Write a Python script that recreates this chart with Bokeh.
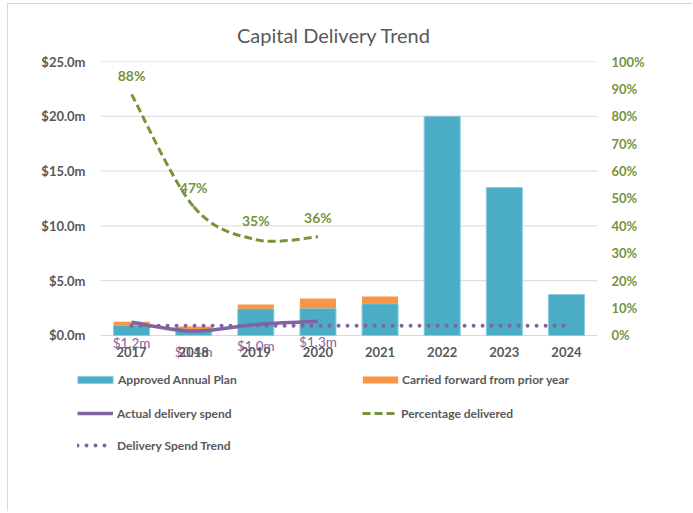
import numpy as np
from bokeh.plotting import figure
from bokeh.models import (Range1d, LinearAxis, FixedTicker, PrintfTickFormatter,
                          NumeralTickFormatter, Legend, LegendItem, ColumnDataSource)
from bokeh.core.properties import value
from bokeh.embed import file_html
from bokeh.resources import INLINE

# ---------------- data ----------------
years = ["2017", "2018", "2019", "2020", "2021", "2022", "2023", "2024"]
approved_plan = [0.91, 0.60, 2.44, 2.49, 2.89, 20.0, 13.5, 3.74]        # $m
carried_forward = [0.34, 0.22, 0.39, 0.89, 0.67, 0.0, 0.0, 0.0]         # $m
actual_years = ["2017", "2018", "2019", "2020"]
actual_spend = [1.2, 0.4, 1.0, 1.3]                                     # $m
pct_delivered = [0.88, 0.47, 0.35, 0.36]
trend_spend = [0.88, 0.88, 0.88, 0.88, 0.88, 0.88, 0.88, 0.88]          # $m
left_ticks = [0, 5, 10, 15, 20, 25]
right_ticks = [0.0, 0.1, 0.2, 0.3, 0.4, 0.5, 0.6, 0.7, 0.8, 0.9, 1.0]
series_names = ["Approved Annual Plan", "Carried forward from prior year",
                "Actual delivery spend", "Percentage delivered",
                "Delivery Spend Trend"]

TEAL = "#4BACC6"
ORANGE = "#F79646"
PURPLE = "#8064A2"
GREEN = "#77933C"
GREY = "#595959"
FONT = "Lato"

# plot-area extent (the frame also holds the legend below the zero line)
Y_MIN = -12.32
Y_MAX = 25.0
X_MIN = -0.483

xpos = {y: i + 0.5 for i, y in enumerate(years)}
x_all = [xpos[y] for y in years]
x_act = [xpos[y] for y in actual_years]

p = figure(width=685, height=508, output_backend="svg", toolbar_location=None,
           x_range=Range1d(X_MIN, len(years)), y_range=Range1d(Y_MIN, Y_MAX),
           min_border_left=62, min_border_right=96, min_border_top=57,
           min_border_bottom=42, y_axis_location=None)
p.styles = {"margin-left": "7px", "margin-top": "3px",
            "border-left": "1px solid #D9D9D9", "border-top": "1px solid #D9D9D9"}
p.outline_line_color = None
p.background_fill_color = "white"
p.border_fill_color = "white"

p.title.text = "Capital Delivery Trend"
p.title.align = "center"
p.title.text_font = FONT
p.title.text_font_size = "20px"
p.title.text_font_style = "normal"
p.title.text_color = GREY
p.title.standoff = 30

p.extra_y_ranges = {"pct": Range1d(Y_MIN / Y_MAX, 1)}

# axes
xa = p.xaxis[0]
xa.ticker = FixedTicker(ticks=x_all)
xa.major_label_overrides = {xpos[y]: y for y in years}
xa.major_tick_out = 0
xa.major_tick_in = 0
xa.minor_tick_out = 0
xa.minor_tick_in = 0
xa.axis_line_color = None
xa.major_label_standoff = -124
xa.major_label_text_font = FONT
xa.major_label_text_font_style = "bold"
xa.major_label_text_font_size = "13px"
xa.major_label_text_color = GREY

ly = LinearAxis(ticker=FixedTicker(ticks=left_ticks),
                formatter=PrintfTickFormatter(format="$%.1fm"))
ry = LinearAxis(y_range_name="pct", ticker=FixedTicker(ticks=right_ticks),
                formatter=NumeralTickFormatter(format="0%"))
for ax, col, so in ((ly, GREY, -15), (ry, GREEN, 14)):
    ax.major_tick_out = 0
    ax.major_tick_in = 0
    ax.minor_tick_out = 0
    ax.minor_tick_in = 0
    ax.axis_line_color = None
    ax.major_label_standoff = so
    ax.major_label_text_font = FONT
    ax.major_label_text_font_style = "bold"
    ax.major_label_text_font_size = "13px"
    ax.major_label_text_color = col
p.add_layout(ly, "left")
p.add_layout(ry, "right")

# horizontal gridlines over the category span only
p.xgrid.visible = False
p.ygrid.visible = False
p.segment(x0=0, x1=len(years), y0=left_ticks, y1=left_ticks,
          line_color="#D9D9D9", line_width=1)

# bars
plan = np.array(approved_plan)
cf = np.array(carried_forward)
bar_src = ColumnDataSource(dict(x=x_all, plan=plan, top=plan + cf))
r_plan = p.vbar(x="x", width=0.58, bottom=0, top="plan", source=bar_src,
                fill_color=TEAL, line_color="#8CCBDC", line_width=1)
r_cf = p.vbar(x="x", width=0.58, bottom="plan", top="top", source=bar_src,
              fill_color=ORANGE, line_color=None)

# trend dotted line
r_trend = p.line(x_all, trend_spend, line_color=PURPLE, line_width=4,
                 line_dash="0 9", line_cap="round")


def bezier_parts(xs, ys):
    n = len(xs)
    out = dict(x0=[], y0=[], x1=[], y1=[], cx0=[], cy0=[], cx1=[], cy1=[])
    for i in range(n - 1):
        pm = i - 1 if i > 0 else i
        pp = i + 2 if i + 2 < n else i + 1
        out["x0"].append(xs[i]); out["y0"].append(ys[i])
        out["x1"].append(xs[i + 1]); out["y1"].append(ys[i + 1])
        out["cx0"].append(xs[i] + (xs[i + 1] - xs[pm]) / 6)
        out["cy0"].append(ys[i] + (ys[i + 1] - ys[pm]) / 6)
        out["cx1"].append(xs[i + 1] - (xs[pp] - xs[i]) / 6)
        out["cy1"].append(ys[i + 1] - (ys[pp] - ys[i]) / 6)
    return out


# actual delivery spend (smoothed)
r_act = p.bezier(source=ColumnDataSource(bezier_parts(x_act, actual_spend)),
                 x0="x0", y0="y0", x1="x1", y1="y1", cx0="cx0", cy0="cy0",
                 cx1="cx1", cy1="cy1", line_color=PURPLE, line_width=3.5)
# percentage delivered (smoothed, dashed)
r_pct = p.bezier(source=ColumnDataSource(bezier_parts(x_act, pct_delivered)),
                 x0="x0", y0="y0", x1="x1", y1="y1", cx0="cx0", cy0="cy0",
                 cx1="cx1", cy1="cy1", line_color=GREEN, line_width=3,
                 line_dash="8 4", y_range_name="pct")

# data labels
p.text(x=x_act, y=actual_spend, text=["$%.1fm" % v for v in actual_spend],
       text_color=PURPLE, text_font=value(FONT), text_font_size="13.5px",
       text_align="center", text_baseline="middle", y_offset=21)
p.text(x=x_act, y=pct_delivered, text=["%d%%" % round(v * 100) for v in pct_delivered],
       text_color=GREEN, text_font=value(FONT), text_font_size="14px",
       text_font_style="bold", text_align="center", text_baseline="middle",
       y_offset=-19, y_range_name="pct")

# legend entries (screen offsets from the plot area's bottom-left corner)
keys = [r_plan, r_cf, r_act, r_pct, r_trend]
key_loc = [(3, 83), (288, 83), (7, 49), (292, 49), (7, 17)]
key_gw = [44, 44, 36, 36, 36]
key_gh = [9, 9, 16, 16, 16]
key_so = [1, 0, 4, 3, 4]

for name, rend, loc, gw, gh, so in zip(series_names, keys, key_loc, key_gw,
                                       key_gh, key_so):
    lg = Legend(items=[LegendItem(label=name, renderers=[rend])], location=loc,
                glyph_width=gw, glyph_height=gh, label_height=gh,
                label_standoff=so, padding=0, margin=0, spacing=0,
                border_line_color=None, background_fill_alpha=0,
                label_text_font=FONT, label_text_font_style="bold",
                label_text_font_size="12px", label_text_color=GREY)
    p.add_layout(lg, "center")

open("out.html", "w").write(file_html(p, INLINE))
